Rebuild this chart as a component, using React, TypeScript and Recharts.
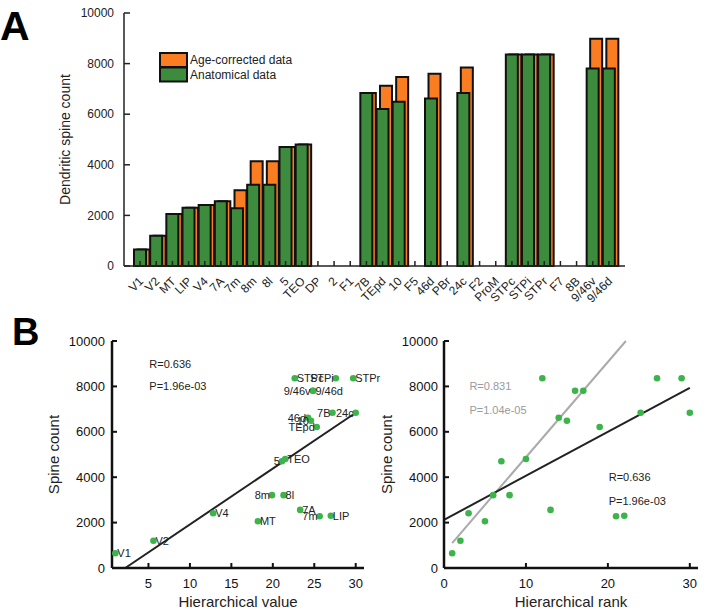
import React from 'react';
import {
  BarChart,
  Bar,
  XAxis,
  YAxis,
  Legend,
  ScatterChart,
  Scatter,
  ReferenceLine,
} from 'recharts';

// Panel A: spine counts per cortical area
const AREAS = [
  'V1', 'V2', 'MT', 'LIP', 'V4', '7A', '7m', '8m', '8l', '5', 'TEO', 'DP', '2', 'F1', '7B',
  'TEpd', '10', 'F5', '46d', 'PBr', '24c', 'F2', 'ProM', 'STPc', 'STPi', 'STPr', 'F7', '8B',
  '9/46v', '9/46d',
];
const ANATOMICAL = [
  650, 1200, 2060, 2300, 2410, 2560, 2280, 3210, 3210, 4700, 4800, null, null, null, 6840,
  6210, 6490, null, 6620, null, 6840, null, null, 8360, 8360, 8360, null, null, 7810, 7810,
];
const AGE_CORRECTED = [
  650, 1200, 2060, 2300, 2410, 2560, 2990, 4140, 4140, 4700, 4800, null, null, null, 6840,
  7120, 7470, null, 7600, null, 7850, null, null, 8360, 8360, 8360, null, null, 8980, 8980,
];
const SPINE_TICKS = [0, 2000, 4000, 6000, 8000, 10000];

// Panel B: areas with data, hierarchy value / rank
const SCATTER_AREAS = [
  'V1', 'V2', 'MT', 'LIP', 'V4', '7A', '7m', '8m', '8l', '5', 'TEO', '7B', 'TEpd', '10',
  '46d', '24c', 'STPc', 'STPi', 'STPr', '9/46v', '9/46d',
];
const HIER_VALUE = [
  1.0, 5.6, 18.2, 27.0, 12.8, 23.3, 25.65, 19.9, 21.3, 21.1, 21.5, 27.2, 25.3, 24.6, 24.25,
  30.0, 22.65, 27.6, 29.7, 24.8, 24.9,
];
const HIER_RANK = [1, 2, 5, 22, 3, 13, 21, 6, 8, 7, 10, 24, 19, 15, 14, 30, 12, 26, 29, 16, 17];
const SPINE_COUNT = [
  650, 1200, 2060, 2300, 2410, 2560, 2280, 3210, 3210, 4700, 4800, 6840, 6210, 6490, 6620,
  6840, 8360, 8360, 8360, 7810, 7810,
];

// fitted lines (end points, data coords)
const FIT_VALUE = [{ x: 2.2, y: 0 }, { x: 30, y: 6840 }];
const FIT_RANK = [{ x: 0, y: 2120 }, { x: 30, y: 7940 }];
const FIT_RANK_AGE = [{ x: 1, y: 1100 }, { x: 22.2, y: 10000 }];

const STATS_VALUE = [
  { x: 5.1, y: 9000, text: 'R=0.636', color: '#222' },
  { x: 5.1, y: 8000, text: 'P=1.96e-03', color: '#222' },
];
const STATS_RANK = [
  { x: 3.1, y: 8000, text: 'R=0.831', color: '#9a9a9a' },
  { x: 3.1, y: 6950, text: 'P=1.04e-05', color: '#9a9a9a' },
  { x: 20.1, y: 4000, text: 'R=0.636', color: '#222' },
  { x: 20.1, y: 2960, text: 'P=1.96e-03', color: '#222' },
];

// labels drawn to the left of their point
const LEFT_LABELS = new Set(['7m', '8m', '5', 'STPi', '9/46v', '46d', '10', 'TEpd', '7B', '24c']);

const GREEN = '#3d8b3d';
const ORANGE = '#fb7d21';
const DOT = '#3cb44b';
const FONT = '"Liberation Sans", Arial, sans-serif';

const barData = AREAS.map((area, i) => ({
  area,
  anatomical: ANATOMICAL[i],
  corrected: AGE_CORRECTED[i],
}));

const valueData = SCATTER_AREAS.map((name, i) => ({ name, x: HIER_VALUE[i], y: SPINE_COUNT[i] }));
const rankData = SCATTER_AREAS.map((name, i) => ({ name, x: HIER_RANK[i], y: SPINE_COUNT[i] }));

function AreaTick({ x, y, payload }: any) {
  const tx = x + 4;
  const ty = y + 16;
  return (
    <text
      x={tx}
      y={ty}
      textAnchor="end"
      fontSize={12}
      fill="#222"
      transform={`rotate(-45 ${tx} ${ty})`}
    >
      {payload.value}
    </text>
  );
}

function BarLegend({ payload }: any) {
  return (
    <svg width={140} height={32}>
      {(payload || []).map((p: any, i: number) => (
        <g key={p.value}>
          <rect x={1} y={1 + i * 14.5} width={27} height={14} fill={p.color} stroke="#111" strokeWidth={2} />
          <text x={31} y={8 + i * 14.5} dy="0.35em" fontSize={12} fill="#222">
            {p.value}
          </text>
        </g>
      ))}
    </svg>
  );
}

const dotShape = (p: any) => <circle cx={p.cx} cy={p.cy} r={3.3} fill={DOT} />;

const nameShape = (p: any) => {
  const left = LEFT_LABELS.has(p.payload.name);
  return (
    <text
      x={left ? p.cx - 2 : p.cx + 2}
      y={p.cy}
      dy="0.35em"
      textAnchor={left ? 'end' : 'start'}
      fontSize={11}
      fill="#222"
    >
      {p.payload.name}
    </text>
  );
};

const statShape = (p: any) => (
  <text x={p.cx} y={p.cy} dy="0.35em" textAnchor="start" fontSize={11} fill={p.payload.color}>
    {p.payload.text}
  </text>
);

const axisB = { stroke: '#111', strokeWidth: 2.5 };
const tickLineB = { stroke: '#111', strokeWidth: 2 };

export default function App() {
  return (
    <div
      style={{
        position: 'absolute',
        left: 0,
        top: 0,
        width: 709,
        height: 614,
        background: '#fff',
        fontFamily: FONT,
      }}
    >
      <div style={{ position: 'absolute', left: 0, top: 0 }}>
        <BarChart
          width={709}
          height={320}
          data={barData}
          margin={{ top: 13, right: 84, bottom: 0, left: 64 }}
          barCategoryGap={0}
        >
          <XAxis
            xAxisId="green"
            dataKey="area"
            interval={0}
            padding={{ left: 8, right: 8 }}
            height={54}
            tickSize={-5}
            tickMargin={5}
            tick={<AreaTick />}
            axisLine={{ stroke: '#222', strokeWidth: 1.5 }}
            tickLine={{ stroke: '#222', strokeWidth: 1.5 }}
          />
          <XAxis xAxisId="orange" dataKey="area" hide padding={{ left: 11.5, right: 4.5 }} />
          <YAxis
            domain={[0, 10000]}
            ticks={SPINE_TICKS}
            width={60}
            tickSize={-6}
            tickMargin={16}
            tick={{ fontSize: 12, fill: '#222' }}
            axisLine={{ stroke: '#222', strokeWidth: 1.5 }}
            tickLine={{ stroke: '#222', strokeWidth: 1.5 }}
            label={{
              value: 'Dendritic spine count',
              angle: -90,
              position: 'insideLeft',
              offset: 1,
              style: { textAnchor: 'middle', fontSize: 14, fill: '#222' },
            }}
          />
          <Legend
            layout="horizontal"
            verticalAlign="middle"
            align="center"
            content={<BarLegend />}
            wrapperStyle={{ position: 'absolute', left: 159, top: 52, width: 140 }}
          />
          <Bar
            xAxisId="orange"
            dataKey="corrected"
            name="Age-corrected data"
            fill={ORANGE}
            stroke="#111"
            strokeWidth={2}
            barSize={12}
            isAnimationActive={false}
          />
          <Bar
            xAxisId="green"
            dataKey="anatomical"
            name="Anatomical data"
            fill={GREEN}
            stroke="#111"
            strokeWidth={2}
            barSize={12}
            isAnimationActive={false}
          />
        </BarChart>
      </div>

      <div style={{ position: 'absolute', left: 0, top: 320 }}>
        <ScatterChart width={392} height={294} margin={{ top: 21, right: 28, bottom: 6, left: 52 }}>
          <XAxis
            type="number"
            dataKey="x"
            domain={[0.6, 31]}
            ticks={[5, 10, 15, 20, 25, 30]}
            height={40}
            tickSize={-5}
            tickMargin={16}
            tick={{ fontSize: 13, fill: '#111' }}
            axisLine={axisB}
            tickLine={tickLineB}
            label={{ value: 'Hierarchical value', position: 'insideBottom', offset: 1, style: { fontSize: 15, fill: '#222' } }}
          />
          <YAxis
            type="number"
            dataKey="y"
            domain={[0, 10000]}
            ticks={SPINE_TICKS}
            width={60}
            tickSize={-5}
            tickMargin={12}
            tick={{ fontSize: 13, fill: '#111' }}
            axisLine={axisB}
            tickLine={tickLineB}
            label={{
              value: 'Spine count',
              angle: -90,
              position: 'insideLeft',
              offset: 1.5,
              style: { textAnchor: 'middle', fontSize: 15, fill: '#222' },
            }}
          />
          <ReferenceLine segment={FIT_VALUE} stroke="#222" strokeWidth={2} ifOverflow="visible" />
          <Scatter data={valueData} shape={dotShape} isAnimationActive={false} />
          <Scatter data={valueData} shape={nameShape} isAnimationActive={false} />
          <Scatter data={STATS_VALUE} shape={statShape} isAnimationActive={false} />
        </ScatterChart>
      </div>

      <div style={{ position: 'absolute', left: 370, top: 320 }}>
        <ScatterChart width={339} height={294} margin={{ top: 21, right: 11, bottom: 6, left: 14 }}>
          <XAxis
            type="number"
            dataKey="x"
            domain={[0, 31]}
            ticks={[0, 10, 20, 30]}
            height={40}
            tickSize={-5}
            tickMargin={16}
            tick={{ fontSize: 13, fill: '#111' }}
            axisLine={axisB}
            tickLine={tickLineB}
            label={{ value: 'Hierarchical rank', position: 'insideBottom', offset: 1, style: { fontSize: 15, fill: '#222' } }}
          />
          <YAxis
            type="number"
            dataKey="y"
            domain={[0, 10000]}
            ticks={SPINE_TICKS}
            width={60}
            tickSize={-5}
            tickMargin={11}
            tick={{ fontSize: 13, fill: '#111' }}
            axisLine={axisB}
            tickLine={tickLineB}
            label={{
              value: 'Spine count',
              angle: -90,
              position: 'insideLeft',
              offset: 3,
              style: { textAnchor: 'middle', fontSize: 15, fill: '#222' },
            }}
          />
          <ReferenceLine segment={FIT_RANK_AGE} stroke="#aaaaaa" strokeWidth={2} ifOverflow="visible" />
          <ReferenceLine segment={FIT_RANK} stroke="#222" strokeWidth={2} ifOverflow="visible" />
          <Scatter data={rankData} shape={dotShape} isAnimationActive={false} />
          <Scatter data={STATS_RANK} shape={statShape} isAnimationActive={false} />
        </ScatterChart>
      </div>

      <svg
        width={709}
        height={614}
        style={{ position: 'absolute', left: 0, top: 0, pointerEvents: 'none' }}
      >
        <text x={0} y={40} fontSize={41} fontWeight="bold" fill="#000">
          A
        </text>
        <text x={12} y={345} fontSize={38} fontWeight="bold" fill="#000">
          B
        </text>
      </svg>
    </div>
  );
}
